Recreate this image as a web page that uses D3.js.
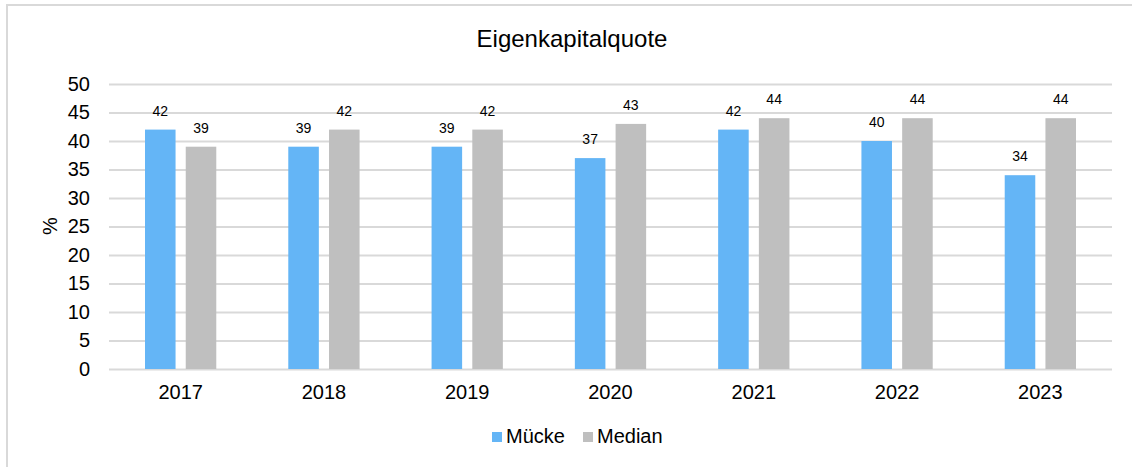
<!DOCTYPE html>
<html>
<head>
<meta charset="utf-8">
<script src="https://cdn.jsdelivr.net/npm/d3@7"></script>
<style>
  body { margin: 0; background: #fff; font-family: "Liberation Sans", Arial, sans-serif; }
</style>
</head>
<body>
<div id="container"></div>
<script>
// chart data
var years = ["2017", "2018", "2019", "2020", "2021", "2022", "2023"];
var muecke = [42, 39, 39, 37, 42, 40, 34];
var median = [39, 42, 42, 43, 44, 44, 44];
var seriesNames = ["Mücke", "Median"];
var yTicks = [0, 5, 10, 15, 20, 25, 30, 35, 40, 45, 50];

var colors = ["#64B5F6", "#BFBFBF"];

var W = 1132, H = 467;
var margin = {top: 84, right: 20, bottom: 98, left: 109};
var width = W - margin.left - margin.right;
var height = H - margin.top - margin.bottom;

var svg = d3.select("#container").append("svg")
  .attr("width", W)
  .attr("height", H);

// outer frame
svg.append("rect")
  .attr("x", 7).attr("y", 5)
  .attr("width", W + 10).attr("height", H + 10)
  .attr("fill", "#fff")
  .attr("stroke", "#d9d9d9")
  .attr("stroke-width", 2);

var g = svg.append("g")
  .attr("transform", "translate(" + margin.left + "," + margin.top + ")");

var x = d3.scaleBand().domain(years).range([0, width]).paddingInner(0).paddingOuter(0);
var xSub = d3.scaleBand().domain(seriesNames).range([36, x.bandwidth() - 36]).paddingInner(0.25);
var y = d3.scaleLinear().domain([0, 50]).range([height, 0]);

// gridlines
g.append("g")
  .call(d3.axisLeft(y).tickValues(yTicks).tickSize(-width).tickFormat(""))
  .call(function(s) {
    s.select(".domain").remove();
    s.selectAll(".tick line").attr("stroke", "#d9d9d9").attr("stroke-width", 2);
  });

// y tick labels
g.append("g")
  .call(d3.axisLeft(y).tickValues(yTicks).tickSize(0).tickPadding(19))
  .call(function(s) {
    s.select(".domain").remove();
    s.selectAll("text")
      .style("font-family", "'Liberation Sans', Arial, sans-serif")
      .style("font-size", "20px")
      .attr("fill", "#000");
  });

// x axis labels
g.append("g")
  .attr("transform", "translate(0," + height + ")")
  .call(d3.axisBottom(x).tickSize(0).tickPadding(16))
  .call(function(s) {
    s.select(".domain").remove();
    s.selectAll("text")
      .style("font-family", "'Liberation Sans', Arial, sans-serif")
      .style("font-size", "20px")
      .attr("fill", "#000");
  });

var rows = years.map(function(yr, i) {
  return {year: yr, values: [
    {key: seriesNames[0], value: muecke[i], c: colors[0]},
    {key: seriesNames[1], value: median[i], c: colors[1]}
  ]};
});

var groups = g.append("g").selectAll("g")
  .data(rows).enter().append("g")
  .attr("transform", function(d) { return "translate(" + x(d.year) + ",0)"; });

groups.selectAll("rect")
  .data(function(d) { return d.values; })
  .enter().append("rect")
  .attr("x", function(d) { return xSub(d.key); })
  .attr("y", function(d) { return y(d.value); })
  .attr("width", xSub.bandwidth())
  .attr("height", function(d) { return height - y(d.value); })
  .attr("fill", function(d) { return d.c; });

groups.selectAll("text.lbl")
  .data(function(d) { return d.values; })
  .enter().append("text")
  .attr("class", "lbl")
  .attr("x", function(d) { return xSub(d.key) + xSub.bandwidth() / 2; })
  .attr("y", function(d) { return y(d.value) - 14; })
  .attr("text-anchor", "middle")
  .style("font-size", "14px")
  .attr("fill", "#000")
  .text(function(d) { return d.value; });

// title
svg.append("text")
  .attr("x", 572).attr("y", 47)
  .attr("text-anchor", "middle")
  .style("font-size", "24px")
  .attr("fill", "#000")
  .text("Eigenkapitalquote");

// y axis label
svg.append("text")
  .attr("transform", "translate(57,226) rotate(-90)")
  .attr("text-anchor", "middle")
  .style("font-size", "20px")
  .attr("fill", "#000")
  .text("%");

// legend
var legend = svg.append("g").attr("transform", "translate(492,443)");
var legX = [0, 91];
seriesNames.forEach(function(n, i) {
  legend.append("rect")
    .attr("x", legX[i]).attr("y", -11)
    .attr("width", 10).attr("height", 10)
    .attr("fill", colors[i]);
  legend.append("text")
    .attr("x", legX[i] + 14).attr("y", 0)
    .style("font-size", "20px")
    .attr("fill", "#000")
    .text(n);
});
</script>
</body>
</html>
